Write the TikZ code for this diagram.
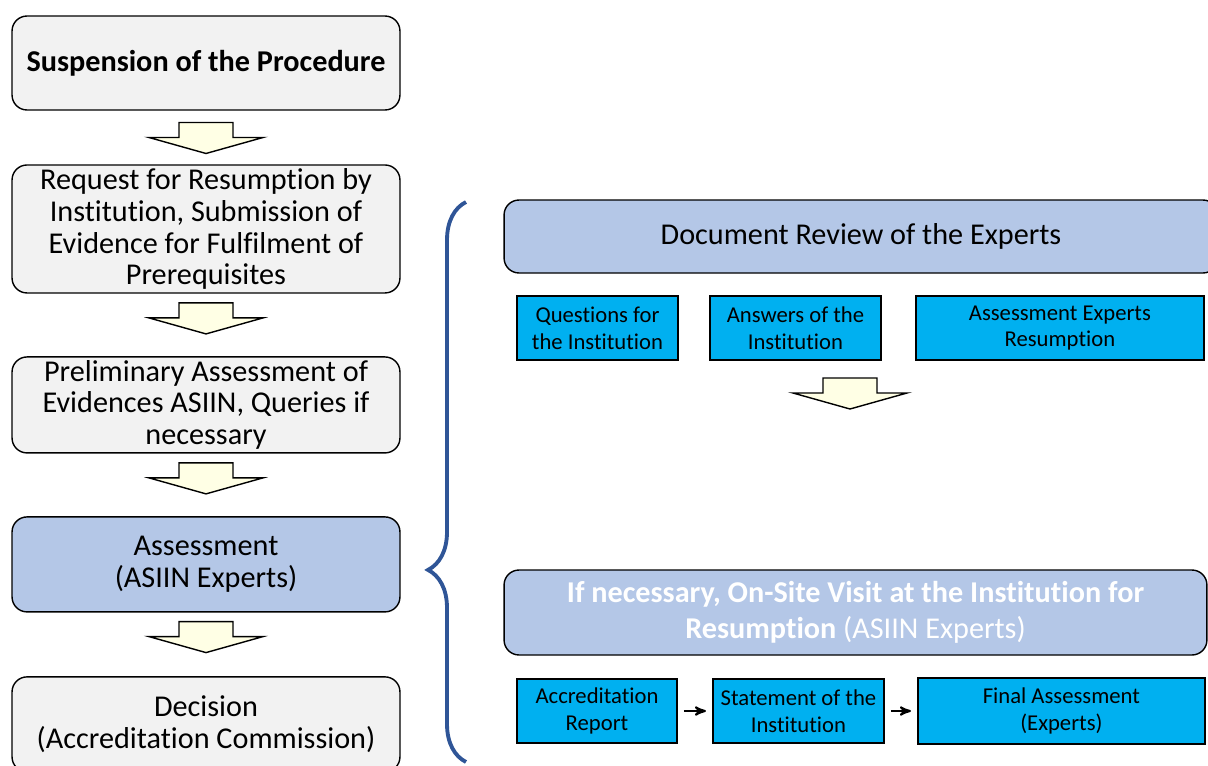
\documentclass[tikz,border=0pt]{standalone}
\usepackage{fontspec}
\setmainfont{Carlito}[Ligatures=NoCommon]
\usepackage{tikz}
\usetikzlibrary{arrows, positioning, calc, decorations.pathreplacing}
\definecolor{stepgray}{HTML}{F2F2F2}
\definecolor{stepblue}{HTML}{B4C7E7}
\definecolor{taskcyan}{HTML}{00B0F0}
\definecolor{bracecol}{HTML}{2F5597}
\definecolor{arrowfill}{HTML}{FFFFE5}
\newcommand{\stepfont}{\fontsize{17.2}{18.2}\selectfont}
\newcommand{\taskfont}{\fontsize{12.9}{15.3}\selectfont}
\newcommand{\hollowarrow}[1]{\draw[fill=arrowfill, line width=0.8pt, shift={#1}]
  (-27,-15) -- (27,-15) -- (27,0) -- (57,0) -- (0,16) -- (-57,0) -- (-27,0) -- cycle;}

\begin{document}
\begin{tikzpicture}[x=0.02cm, y=-0.02cm, >=stealth', line join=miter,
    main node/.style={rectangle, rounded corners=0.3cm, draw, line width=0.8pt,
      minimum width=7.76cm, align=center, inner sep=0pt, outer sep=0pt, font=\stepfont},
    wide node/.style={main node, fill=stepblue},
    task node/.style={rectangle, draw, line width=0.8pt, fill=taskcyan,
      minimum height=1.28cm, align=center, inner sep=0pt, outer sep=0pt, font=\taskfont}]
  \useasboundingbox (0,0) rectangle (1208,765);

  % left column
  \node[main node, fill=stepgray, minimum height=1.88cm] (suspend) at (206,63)
    {\textbf{Suspension of the Procedure}};
  \node[main node, fill=stepgray, minimum height=2.56cm] (request) [below=1.1cm of suspend]
    {Request for Resumption by\\Institution, Submission of\\Evidence for Fulfilment of\\Prerequisites};
  \node[main node, fill=stepgray, minimum height=1.92cm] (prelim) [below=1.28cm of request]
    {Preliminary Assessment of\\Evidences ASIIN, Queries if\\necessary};
  \node[main node, fill=stepblue, minimum height=1.9cm] (assess) [below=1.28cm of prelim]
    {Assessment\\(ASIIN Experts)};
  \node[main node, fill=stepgray, minimum height=1.9cm] (decision) [below=1.3cm of assess]
    {Decision\\(Accreditation Commission)};

  \hollowarrow{($(suspend.south)!0.5!(request.north)$)}
  \hollowarrow{($(request.south)!0.39!(prelim.north)$)}
  \hollowarrow{($(prelim.south)!0.39!(assess.north)$)}
  \hollowarrow{($(assess.south)!0.38!(decision.north)$)}

  % brace
  \draw[bracecol, line width=2.2pt, decorate,
    decoration={brace, amplitude=0.76cm, aspect=0.343}] (466,762) -- (466,202);

  % document review
  \node[wide node, minimum width=14.28cm, minimum height=1.46cm] (review) at (861,236.5)
    {Document Review of the Experts};
  \node[task node, minimum width=3.22cm] (questions) at (597.5,328)
    {Questions for\\the Institution};
  \node[task node, minimum width=3.42cm] (answers) [right=0.64cm of questions]
    {Answers of the\\Institution};
  \node[task node, minimum width=5.76cm] (resumption) [right=0.7cm of answers]
    {Assessment Experts\\Resumption};

  \hollowarrow{(850,393)}

  % on-site visit
  \node[wide node, minimum width=14.06cm, minimum height=1.7cm, text=white,
    font=\fontsize{17.2}{20.4}\selectfont] (onsite) at (855.5,612.5)
    {\textbf{If necessary, On-Site Visit at the Institution for}\\\textbf{Resumption} (ASIIN Experts)};
  \node[task node, minimum width=3.2cm] (report) at (597,711)
    {Accreditation\\Report};
  \node[task node, minimum width=3.42cm] (statement) [right=0.72cm of report]
    {Statement of the\\Institution};
  \node[task node, minimum width=5.74cm, minimum height=1.32cm] (final) [right=0.68cm of statement]
    {Final Assessment\\(Experts)};

  \path[->, line width=1.2pt, shorten >=0.14cm, shorten <=0.14cm]
    (report) edge (statement)
    (statement) edge (final);
\end{tikzpicture}
\end{document}
